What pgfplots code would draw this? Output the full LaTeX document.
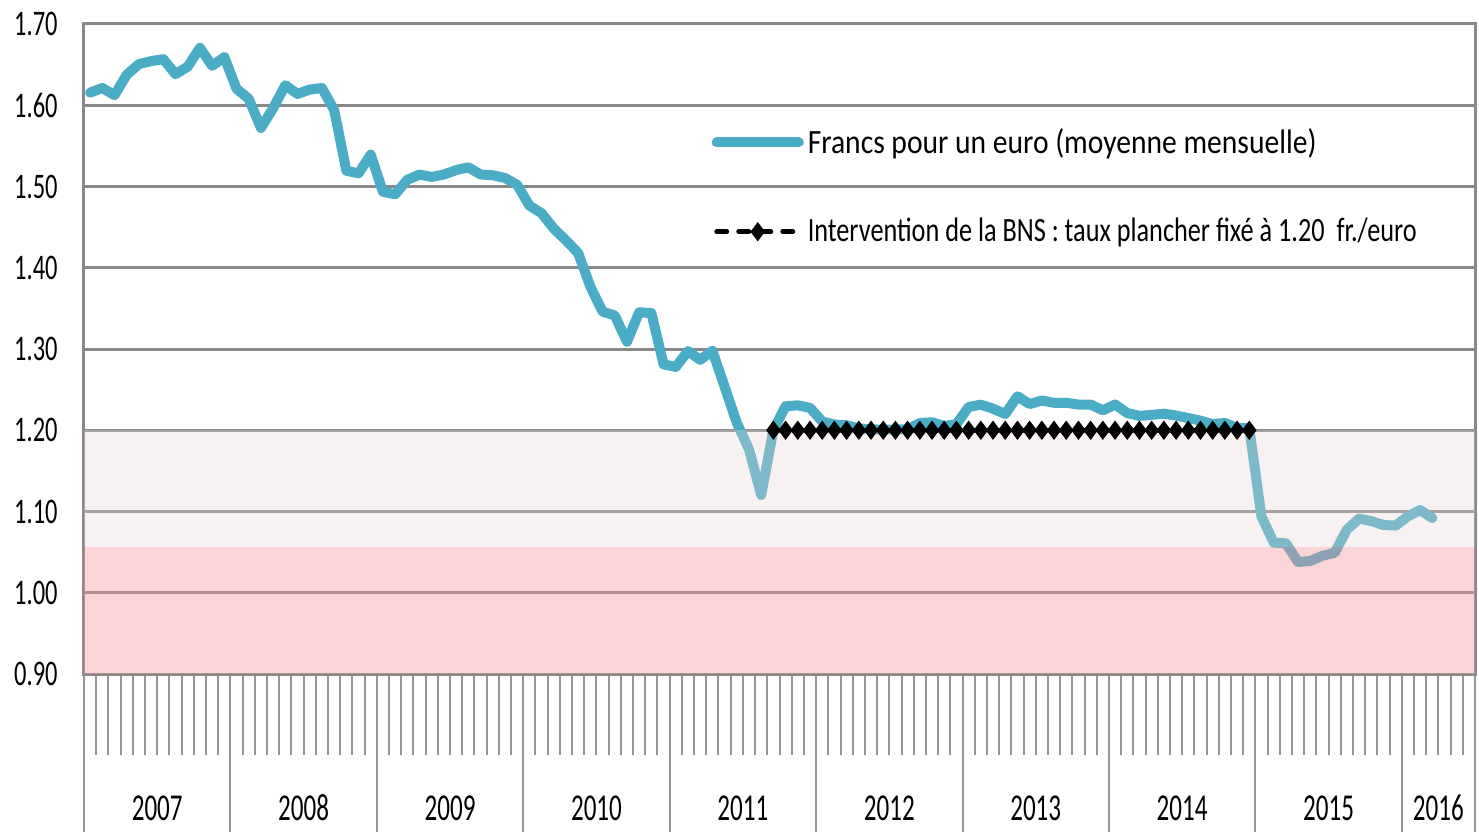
\documentclass[border=0pt]{standalone}
\usepackage{fontspec}
\setmainfont{Carlito}
\newfontfamily\tickfont[FakeStretch=0.68]{Carlito}
\newfontfamily\yearfont[FakeStretch=0.66]{Carlito}
\newfontfamily\legfont[FakeStretch=0.87]{Carlito}
\newfontfamily\legfontB[FakeStretch=0.772]{Carlito}
\usepackage{pgfplots}
\pgfplotsset{compat=1.18}
\definecolor{aqua}{RGB}{75,172,198}
\definecolor{gridc}{RGB}{137,137,137}
\definecolor{tickc}{RGB}{150,150,150}
\definecolor{bandlight}{RGB}{231,213,213}
\definecolor{bandpink}{RGB}{242,148,152}
\pgfplotsset{
  leglineA/.style={legend image code/.code={\draw[##1] (0pt,0pt) -- (41pt,0pt);}},
  leglineB/.style={legend image code/.code={\draw[mark repeat=2,mark phase=2,##1] plot coordinates {(0pt,0pt) (20.5pt,0pt) (41pt,0pt)};}},
}
\begin{document}
\begin{tikzpicture}
\path[use as bounding box] (-42pt,-78.5pt) rectangle (697.5pt,337pt);
\begin{axis}[
  at={(0,0)}, anchor=south west,
  scale only axis, width=695.5pt, height=325pt,
  xmin=-0.5, xmax=113.5, ymin=0.9, ymax=1.7,
  axis line style={draw=gridc, line width=1.5pt},
  ytick={0.9,1.0,1.1,1.2,1.3,1.4,1.5,1.6,1.7},
  yticklabels={0.90,1.00,1.10,1.20,1.30,1.40,1.50,1.60,1.70},
  ymajorgrids, major grid style={draw=gridc, line width=1.5pt},
  yticklabel style={font=\tickfont\fontsize{18}{18}\selectfont, anchor=east, inner sep=0pt, xshift=67pt},
  ytick style={draw=none},
  xtick={-0.5,11.5,23.5,35.5,47.5,59.5,71.5,83.5,95.5,107.5,113.5},
  xticklabels={},
  minor xtick={0.5,1.5,...,112.5},
  tick align=outside, major tick length=80pt, minor tick length=40.5pt,
  xtick pos=bottom, ytick pos=left,
  xtick style={draw=tickc, line width=1pt},
  extra x ticks={5.5,17.5,29.5,41.5,53.5,65.5,77.5,89.5,101.5,110.5},
  extra x tick labels={2007,2008,2009,2010,2011,2012,2013,2014,2015,2016},
  extra x tick style={major tick length=0pt, tick style={draw=none},
    tick label style={font=\yearfont\fontsize{19}{19}\selectfont, anchor=base, yshift=-73pt}},
  legend style={draw=none, fill=none, at={(rel axis cs:0.451,0.846)}, anchor=north west,
    inner sep=0pt, row sep=27pt, font=\fontsize{17}{17}\selectfont},
  legend cell align=left,
]
\addplot[aqua, line width=5pt, line join=round, line cap=round, leglineA] coordinates {
(0,1.6155)(1,1.6212)(2,1.6124)(3,1.6375)(4,1.6506)(5,1.6543)(6,1.6567)(7,1.6383)(8,1.6475)(9,1.6706)(10,1.6485)(11,1.6592)
(12,1.6203)(13,1.6080)(14,1.5720)(15,1.5964)(16,1.6247)(17,1.6139)(18,1.6193)(19,1.6212)(20,1.5942)(21,1.5194)(22,1.5162)(23,1.5393)
(24,1.4935)(25,1.4904)(26,1.5083)(27,1.5147)(28,1.5118)(29,1.5148)(30,1.5202)(31,1.5236)(32,1.5148)(33,1.5138)(34,1.5105)(35,1.5021)
(36,1.4765)(37,1.4671)(38,1.4482)(39,1.4337)(40,1.4181)(41,1.3767)(42,1.3460)(43,1.3413)(44,1.3089)(45,1.3452)(46,1.3442)(47,1.2811)
(48,1.2779)(49,1.2974)(50,1.2867)(51,1.2977)(52,1.2537)(53,1.2092)(54,1.1766)(55,1.1203)(56,1.2005)(57,1.2295)(58,1.2307)(59,1.2276)
(60,1.2108)(61,1.2071)(62,1.2061)(63,1.2023)(64,1.2012)(65,1.2007)(66,1.2010)(67,1.2011)(68,1.2089)(69,1.2098)(70,1.2052)(71,1.2075)
(72,1.2287)(73,1.2315)(74,1.2266)(75,1.2199)(76,1.2418)(77,1.2322)(78,1.2366)(79,1.2338)(80,1.2338)(81,1.2316)(82,1.2316)(83,1.2245)
(84,1.2317)(85,1.2212)(86,1.2177)(87,1.2189)(88,1.2204)(89,1.2181)(90,1.2150)(91,1.2118)(92,1.2076)(93,1.2089)(94,1.2028)(95,1.2026)
(96,1.0940)(97,1.0618)(98,1.0608)(99,1.0379)(100,1.0391)(101,1.0455)(102,1.0492)(103,1.0777)(104,1.0913)(105,1.0882)(106,1.0833)(107,1.0827)
(108,1.0941)(109,1.1018)(110,1.0920)
};
\addlegendentry{\legfont Francs pour un euro (moyenne mensuelle)}
\addplot[black, line width=2.5pt, dash pattern=on 5pt off 6pt, line cap=round,
  mark=diamond*, mark size=4.5pt, mark options={solid, fill=black, line width=0.4pt}, leglineB] coordinates {
(56,1.2)(57,1.2)(58,1.2)(59,1.2)(60,1.2)(61,1.2)(62,1.2)(63,1.2)(64,1.2)(65,1.2)(66,1.2)(67,1.2)(68,1.2)(69,1.2)
(70,1.2)(71,1.2)(72,1.2)(73,1.2)(74,1.2)(75,1.2)(76,1.2)(77,1.2)(78,1.2)(79,1.2)(80,1.2)(81,1.2)(82,1.2)(83,1.2)
(84,1.2)(85,1.2)(86,1.2)(87,1.2)(88,1.2)(89,1.2)(90,1.2)(91,1.2)(92,1.2)(93,1.2)(94,1.2)(95,1.2)
};
\addlegendentry{\legfontB Intervention de la BNS : taux plancher fixé à 1.20~~fr./euro}
\addplot[draw=none, fill=bandlight, fill opacity=0.33, forget plot] coordinates {(-0.5,1.056) (-0.5,1.2) (113.5,1.2) (113.5,1.056)} -- cycle;
\addplot[draw=none, fill=bandpink, fill opacity=0.4, forget plot] coordinates {(-0.5,0.9) (-0.5,1.056) (113.5,1.056) (113.5,0.9)} -- cycle;
\end{axis}
\end{tikzpicture}
\end{document}
